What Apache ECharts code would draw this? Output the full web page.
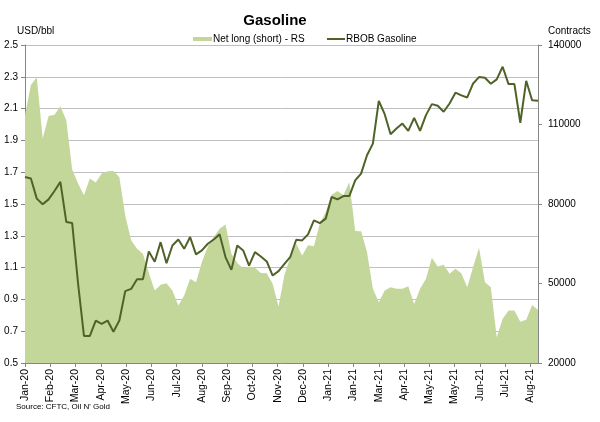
<!DOCTYPE html>
<html>
<head>
<meta charset="utf-8">
<script src="https://cdn.jsdelivr.net/npm/echarts@6/dist/echarts.min.js"></script>
<style>html,body{margin:0;padding:0;background:#fff}#c{width:600px;height:422px}</style>
</head>
<body>
<div id="c"></div>
<script>
// weekly CFTC data, first week 2020-01-07, step 7 days
var weekStepDays = 7;
var tickStepDays = 30;
var axisEndDay = 609;
var tickLabels = ['Jan-20','Feb-20','Mar-20','Apr-20','May-20','Jun-20','Jul-20','Aug-20','Sep-20','Oct-20','Nov-20','Dec-20','Jan-21','Jan-21','Mar-21','Apr-21','May-21','May-21','Jun-21','Jul-21','Aug-21'];
var leftTicks = [0.5,0.7,0.9,1.1,1.3,1.5,1.7,1.9,2.1,2.3,2.5];
var rightTicks = [20000,50000,80000,110000,140000];

var rbob = [1.670,1.660,1.534,1.498,1.529,1.582,1.639,1.387,1.380,1.000,
  0.670,0.670,0.767,0.746,0.767,0.697,0.767,0.952,0.966,1.027,
  1.027,1.202,1.137,1.260,1.128,1.239,1.277,1.218,1.292,1.183,
  1.208,1.250,1.277,1.309,1.166,1.086,1.239,1.208,1.113,1.197,
  1.170,1.139,1.050,1.078,1.124,1.168,1.275,1.271,1.309,1.397,
  1.380,1.408,1.544,1.529,1.550,1.550,1.649,1.691,1.807,1.880,
  2.149,2.065,1.939,1.975,2.006,1.960,2.042,1.960,2.059,2.128,
  2.118,2.080,2.132,2.200,2.183,2.170,2.258,2.298,2.294,2.256,
  2.284,2.363,2.254,2.254,2.011,2.275,2.153,2.149];

var netLong = [113500,124900,127800,104700,113200,113700,116900,111600,93000,87700,
  83300,89600,88100,91500,92400,92500,90200,75700,66300,63100,
  61200,54000,47400,49500,50100,47400,41700,45500,51800,50500,
  58100,64000,67500,70700,72300,61200,57700,55800,56400,55900,
  54000,53900,49900,41300,53300,60000,65000,60600,64400,64100,
  72600,77000,83500,84900,83300,88300,69800,69700,61900,48000,
  42900,47400,48600,48000,48000,49000,42300,48000,51800,59700,
  56400,57100,53700,55600,53900,48600,56200,63500,50500,48600,
  29700,36600,39800,39800,35600,36300,41900,40000];

var font = 'Liberation Sans';
var narrow = "'Liberation Sans Narrow', 'Liberation Sans'";
var chart = echarts.init(document.getElementById('c'));
chart.setOption({
  animation: false,
  textStyle: {fontFamily: font},
  title: {
    text: 'Gasoline', left: 270, top: 8, textAlign: 'center',
    textStyle: {fontFamily: font, fontSize: 15, fontWeight: 'bold', color: '#000'}
  },
  graphic: [
    {type: 'text', left: 17, top: 26, style: {text: 'USD/bbl', fontFamily: font, fontSize: 10, fill: '#000'}},
    {type: 'text', left: 548, top: 26, style: {text: 'Contracts', fontFamily: font, fontSize: 10, fill: '#000'}},
    {type: 'text', left: 16, top: 403, style: {text: "Source: CFTC, Oil N' Gold", fontFamily: font, fontSize: 8, fill: '#000'}}
  ],
  legend: [
    {data: ['Net long (short) - RS'], left: 188, top: 29, icon: 'rect', itemWidth: 19, itemHeight: 4,
      textStyle: {fontFamily: font, fontSize: 10, color: '#000', padding: [0,0,0,-4]}},
    {data: ['RBOB Gasoline'], left: 322, top: 29, icon: 'rect', itemWidth: 18, itemHeight: 2,
      textStyle: {fontFamily: font, fontSize: 10, color: '#000', padding: [0,0,0,-4]}}
  ],
  grid: {left: 25, right: 62, top: 45, bottom: 59, containLabel: false},
  xAxis: {
    type: 'value', min: 0, max: axisEndDay, interval: tickStepDays,
    axisLine: {show: true, lineStyle: {color: '#868686', width: 1}},
    axisTick: {show: true, length: 4, lineStyle: {color: '#868686'}},
    splitLine: {show: false},
    axisLabel: {
      rotate: 90, fontSize: 10.5, fontFamily: narrow, color: '#000', margin: 6, showMaxLabel: false,
      formatter: function (v) {
        if (v % tickStepDays !== 0) return '';
        var k = Math.round(v / tickStepDays);
        return tickLabels[k] || '';
      }
    }
  },
  yAxis: [
    {
      type: 'value', min: leftTicks[0], max: leftTicks[leftTicks.length - 1], interval: 0.2,
      axisLine: {show: true, lineStyle: {color: '#868686'}},
      axisTick: {show: true, length: 4, lineStyle: {color: '#868686'}},
      splitLine: {show: true, lineStyle: {color: '#bfbfbf', width: 1}},
      axisLabel: {fontSize: 10, color: '#000', margin: 7, formatter: function (v) { return v.toFixed(1); }}
    },
    {
      type: 'value', min: rightTicks[0], max: rightTicks[rightTicks.length - 1], interval: 30000,
      position: 'right',
      axisLine: {show: true, lineStyle: {color: '#868686'}},
      axisTick: {show: true, length: 4, lineStyle: {color: '#868686'}},
      splitLine: {show: false},
      axisLabel: {fontSize: 10, color: '#000', margin: 10, formatter: function (v) { return String(v); }}
    }
  ],
  series: [
    {
      name: 'Net long (short) - RS', type: 'line', yAxisIndex: 1, symbol: 'none',
      data: netLong.map(function (v, i) { return [i * weekStepDays, v]; }),
      lineStyle: {width: 0, color: '#c4d79b'},
      itemStyle: {color: '#c4d79b'},
      areaStyle: {color: '#c4d79b', opacity: 1},
      z: 1
    },
    {
      name: 'RBOB Gasoline', type: 'line', yAxisIndex: 0, symbol: 'none',
      data: rbob.map(function (v, i) { return [i * weekStepDays, v]; }),
      lineStyle: {width: 2, color: '#4f6228'},
      itemStyle: {color: '#4f6228'},
      z: 3
    }
  ]
});
</script>
</body>
</html>
